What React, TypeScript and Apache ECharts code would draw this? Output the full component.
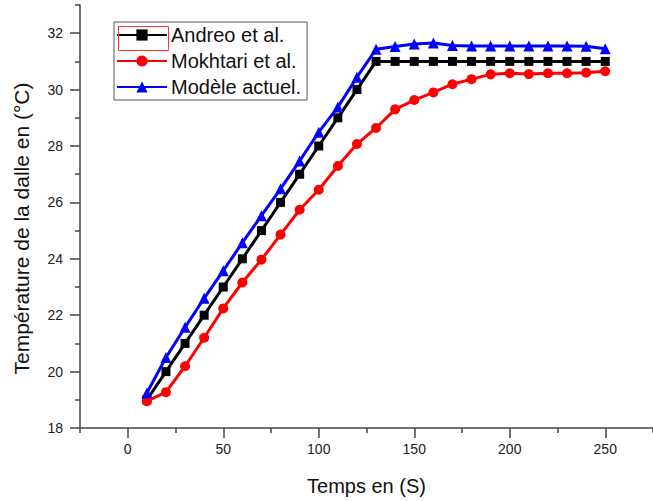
import React, { useEffect, useRef } from "react";
import * as echarts from "echarts";

const times = [10, 20, 30, 40, 50, 60, 70, 80, 90, 100, 110, 120, 130, 140, 150, 160, 170, 180, 190, 200, 210, 220, 230, 240, 250];
const andreo = [19, 20, 21, 22, 23, 24, 25, 26, 27, 28, 29, 30, 31, 31, 31, 31, 31, 31, 31, 31, 31, 31, 31, 31, 31];
const mokhtari = [18.95, 19.27, 20.19, 21.2, 22.24, 23.16, 23.97, 24.86, 25.74, 26.45, 27.29, 28.07, 28.64, 29.3, 29.63, 29.9, 30.19, 30.37, 30.54, 30.58, 30.55, 30.58, 30.58, 30.6, 30.65];
const modele = [19.24, 20.5, 21.57, 22.6, 23.58, 24.57, 25.53, 26.48, 27.47, 28.49, 29.38, 30.44, 31.43, 31.53, 31.62, 31.65, 31.56, 31.55, 31.55, 31.55, 31.55, 31.55, 31.55, 31.54, 31.45];

const xMajor = [0, 50, 100, 150, 200, 250];
const xMinor = [-25, 25, 75, 125, 175, 225, 275];
const yMajor = [18, 20, 22, 24, 26, 28, 30, 32];
const yMinor = [19, 21, 23, 25, 27, 29, 31, 33];

const seriesNames = ["Andreo et al.", "Mokhtari et al.", "Modèle actuel."];

export default function App() {
  const ref = useRef<HTMLDivElement>(null);
  useEffect(() => {
    if (!ref.current) return;
    const chart = echarts.init(ref.current, null, { renderer: "svg" });
    const font = "Liberation Sans, Arial, sans-serif";
    const axisColor = "#444";
    const pair = (arr: number[]) => times.map((t, i) => [t, arr[i]]);
    chart.setOption({
      animation: false,
      backgroundColor: "#fff",
      textStyle: { fontFamily: font },
      grid: { left: 80, top: 5, width: 578, height: 423, containLabel: false },
      legend: {
        left: 114,
        top: 22,
        orient: "vertical",
        itemWidth: 50,
        itemHeight: 14,
        itemGap: 6,
        padding: [3, 6, 3, 2],
        borderColor: "#555",
        borderWidth: 1,
        textStyle: { fontSize: 20, color: "#111", fontFamily: font, padding: [0, 0, 0, -1] },
        data: seriesNames,
      },
      xAxis: [
        {
          type: "value",
          min: -25,
          max: 275,
          name: "Temps en (S)",
          nameLocation: "middle",
          nameGap: 48,
          nameTextStyle: { fontSize: 20, color: "#111", fontFamily: font },
          axisLine: { show: true, onZero: false, lineStyle: { color: axisColor, width: 1.5 } },
          axisTick: { show: true, inside: false, length: 10, customValues: xMajor, lineStyle: { color: axisColor, width: 1.5 } },
          axisLabel: { customValues: xMajor, fontSize: 14, color: "#222", margin: 14, fontFamily: font },
          splitLine: { show: false },
        },
        {
          type: "value",
          min: -25,
          max: 275,
          position: "bottom",
          axisLine: { show: false, onZero: false },
          axisTick: { show: true, length: 5, customValues: xMinor, lineStyle: { color: axisColor, width: 1.5 } },
          axisLabel: { show: false },
          splitLine: { show: false },
        },
      ],
      yAxis: [
        {
          type: "value",
          min: 18,
          max: 33,
          name: "Température de la dalle en (°C)",
          nameLocation: "middle",
          nameGap: 48,
          nameTextStyle: { fontSize: 21, color: "#111", fontFamily: font, padding: [0, 24, 0, 0] },
          axisLine: { show: true, onZero: false, lineStyle: { color: axisColor, width: 1.5 } },
          axisTick: { show: true, length: 10, customValues: yMajor, lineStyle: { color: axisColor, width: 1.5 } },
          axisLabel: { customValues: yMajor, fontSize: 14, color: "#222", margin: 17, fontFamily: font },
          splitLine: { show: false },
        },
        {
          type: "value",
          min: 18,
          max: 33,
          position: "left",
          offset: 0,
          axisLine: { show: false, onZero: false },
          axisTick: { show: true, length: 5, customValues: yMinor, lineStyle: { color: axisColor, width: 1.5 } },
          axisLabel: { show: false },
          splitLine: { show: false },
        },
      ],
      series: [
        {
          name: seriesNames[0],
          type: "line",
          data: pair(andreo),
          symbol: "rect",
          symbolSize: 9,
          itemStyle: { color: "#000" },
          lineStyle: { color: "#000", width: 3 },
          z: 3,
        },
        {
          name: seriesNames[1],
          type: "line",
          data: pair(mokhtari),
          symbol: "circle",
          symbolSize: 10,
          itemStyle: { color: "#ff0000" },
          lineStyle: { color: "#ff0000", width: 3 },
          z: 4,
        },
        {
          name: seriesNames[2],
          type: "line",
          data: pair(modele),
          symbol: "triangle",
          symbolSize: 11,
          itemStyle: { color: "#0000ff" },
          lineStyle: { color: "#0000ff", width: 3 },
          z: 5,
        },
      ],
      graphic: [
        {
          type: "rect",
          left: 116,
          top: 24,
          shape: { width: 50, height: 24 },
          style: { fill: "none", stroke: "#ff3333", lineWidth: 1 },
          z: 100,
        },
      ],
    });
    return () => chart.dispose();
  }, []);
  return <div ref={ref} style={{ width: 653, height: 501, position: "absolute", left: 0, top: 0 }} />;
}
